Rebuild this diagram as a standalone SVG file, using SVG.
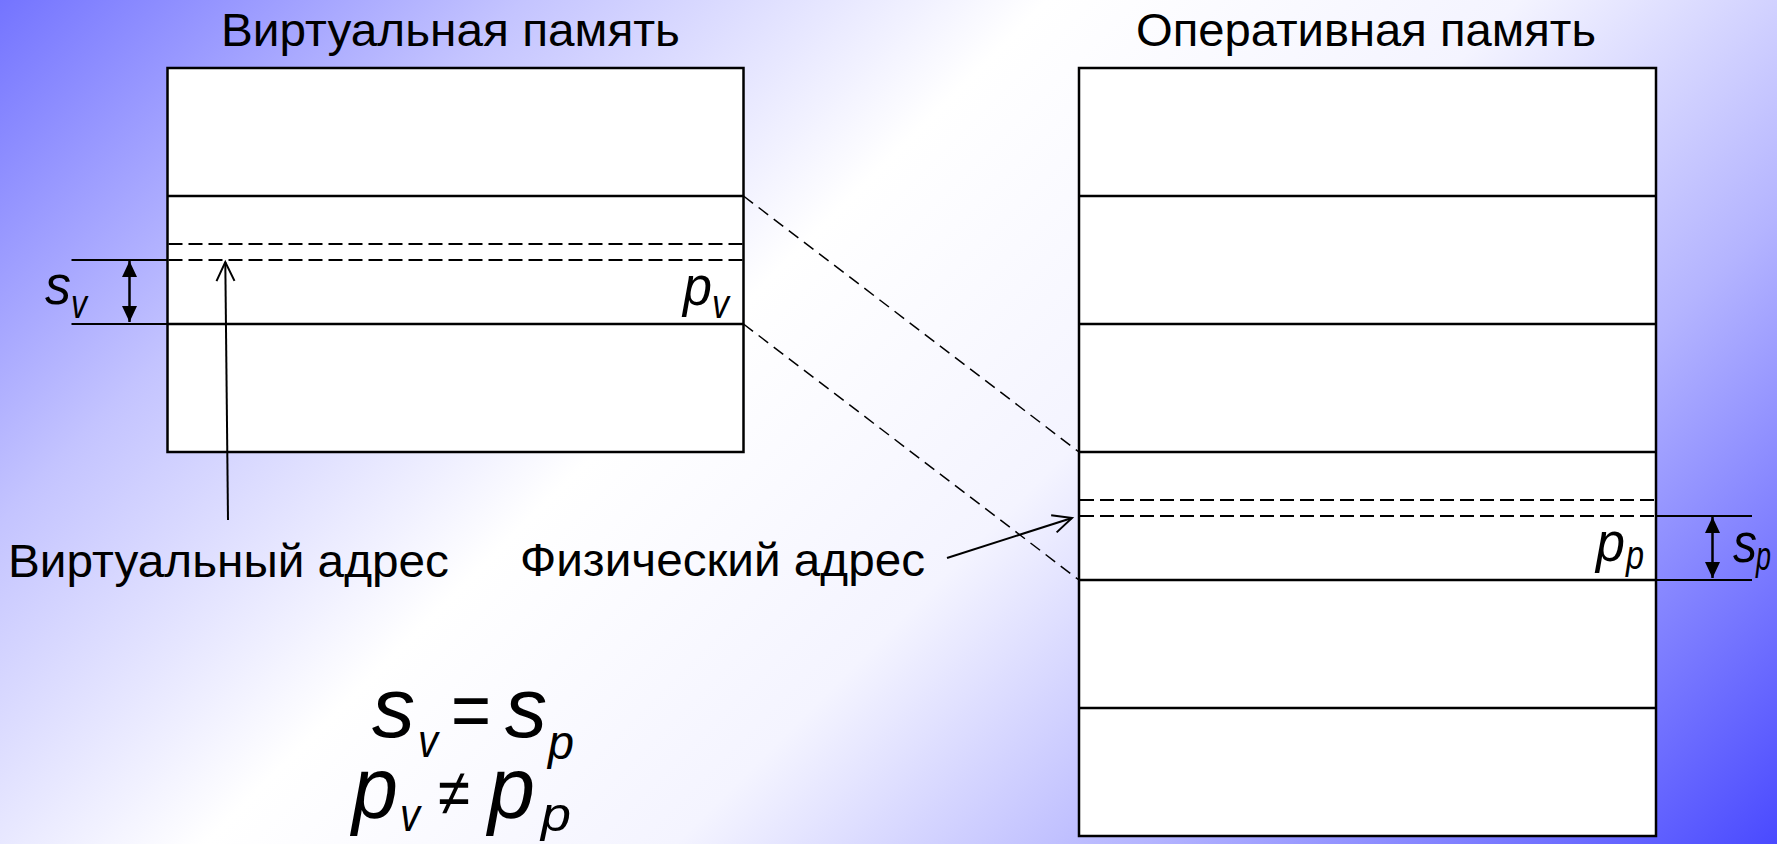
<svg xmlns="http://www.w3.org/2000/svg" width="1777" height="844" viewBox="0 0 1777 844">
<defs>
<linearGradient id="bg" gradientUnits="userSpaceOnUse" x1="0" y1="0" x2="1310" y2="1310">
<stop offset="0" stop-color="#7474ff"/>
<stop offset="0.2" stop-color="#c4c4ff"/>
<stop offset="0.4" stop-color="#ffffff"/>
<stop offset="0.58" stop-color="#f4f4ff"/>
<stop offset="0.76" stop-color="#b4b4ff"/>
<stop offset="1" stop-color="#4a4aff"/>
</linearGradient>
<marker id="open" markerUnits="userSpaceOnUse" viewBox="0 0 24 24" markerWidth="24" markerHeight="24" refX="20" refY="10" orient="auto">
<path d="M1,1 L20,10 L1,19" fill="none" stroke="#000" stroke-width="2"/>
</marker>
<marker id="solid" markerUnits="userSpaceOnUse" viewBox="0 0 16 16" markerWidth="16" markerHeight="16" refX="16" refY="7.5" orient="auto-start-reverse">
<path d="M0,0 L16,7.5 L0,15 z" fill="#000"/>
</marker>
</defs>
<style>
.t{font-family:"Liberation Sans",Arial,sans-serif;fill:#000}
.m{font-family:"Liberation Sans",Arial,sans-serif;font-style:italic;fill:#000}
.box{fill:#fff;stroke:#000;stroke-width:2.5}
.div{stroke:#000;stroke-width:2.5}
.dash{stroke:#000;stroke-width:2;stroke-dasharray:14 6}
.conn{stroke:#000;stroke-width:1.5;stroke-dasharray:12 7;fill:none}
.thin{stroke:#000;stroke-width:2}
.arr{stroke:#000;stroke-width:2;fill:none}
.dim{stroke:#000;stroke-width:2.5;fill:none}
</style>
<rect width="1777" height="844" fill="url(#bg)"/>

<g id="virtual-memory">
<text class="t" x="221" y="46" font-size="47" textLength="459" lengthAdjust="spacingAndGlyphs">Виртуальная память</text>
<rect class="box" x="167.5" y="68" width="576" height="384"/>
<line class="div" x1="167.5" y1="196" x2="743.5" y2="196"/>
<line class="div" x1="167.5" y1="324" x2="743.5" y2="324"/>
<line class="dash" x1="168.5" y1="244" x2="742.5" y2="244"/>
<line class="dash" x1="168.5" y1="260" x2="742.5" y2="260"/>
<text class="m" x="683" y="305" font-size="56" textLength="29" lengthAdjust="spacingAndGlyphs">p</text>
<text class="m" x="712" y="318" font-size="40" textLength="17" lengthAdjust="spacingAndGlyphs">v</text>
</g>

<g id="sv-dimension">
<line class="thin" x1="71.5" y1="260" x2="167.5" y2="260"/>
<line class="thin" x1="71.5" y1="324" x2="167.5" y2="324"/>
<line class="dim" x1="129.5" y1="261" x2="129.5" y2="322" marker-start="url(#solid)" marker-end="url(#solid)"/>
<text class="m" x="45" y="304" font-size="56" textLength="26" lengthAdjust="spacingAndGlyphs">s</text>
<text class="m" x="71" y="318" font-size="40" textLength="16" lengthAdjust="spacingAndGlyphs">v</text>
</g>

<g id="physical-memory">
<text class="t" x="1136" y="46" font-size="47" textLength="460" lengthAdjust="spacingAndGlyphs">Оперативная память</text>
<rect class="box" x="1079" y="68" width="577" height="768"/>
<line class="div" x1="1079" y1="196" x2="1656" y2="196"/>
<line class="div" x1="1079" y1="324" x2="1656" y2="324"/>
<line class="div" x1="1079" y1="452" x2="1656" y2="452"/>
<line class="div" x1="1079" y1="580" x2="1656" y2="580"/>
<line class="div" x1="1079" y1="708" x2="1656" y2="708"/>
<line class="dash" x1="1080" y1="500" x2="1655" y2="500"/>
<line class="dash" x1="1080" y1="516" x2="1655" y2="516"/>
<text class="m" x="1596" y="561" font-size="56" textLength="29" lengthAdjust="spacingAndGlyphs">p</text>
<text class="m" x="1626" y="569" font-size="40" textLength="18" lengthAdjust="spacingAndGlyphs">p</text>
</g>

<g id="sp-dimension">
<line class="thin" x1="1656" y1="516" x2="1752" y2="516"/>
<line class="thin" x1="1656" y1="580" x2="1752" y2="580"/>
<line class="dim" x1="1712.5" y1="517" x2="1712.5" y2="578" marker-start="url(#solid)" marker-end="url(#solid)"/>
<text class="m" x="1733" y="562" font-size="56" textLength="24" lengthAdjust="spacingAndGlyphs">s</text>
<text class="m" x="1756" y="570" font-size="40" textLength="15" lengthAdjust="spacingAndGlyphs">p</text>
</g>

<g id="virtual-address-label">
<text class="t" x="8" y="577" font-size="47" textLength="441" lengthAdjust="spacingAndGlyphs">Виртуальный адрес</text>
</g>

<g id="physical-address-label">
<text class="t" x="520" y="576" font-size="47" textLength="405" lengthAdjust="spacingAndGlyphs">Физический адрес</text>
</g>

<g id="equations">
<text class="m" x="372" y="737" font-size="86" textLength="43" lengthAdjust="spacingAndGlyphs">s</text>
<text class="m" x="418" y="757" font-size="46" textLength="20" lengthAdjust="spacingAndGlyphs">v</text>
<text class="t" x="451" y="737" font-size="80" textLength="40" lengthAdjust="spacingAndGlyphs">=</text>
<text class="m" x="505" y="737" font-size="86" textLength="42" lengthAdjust="spacingAndGlyphs">s</text>
<text class="m" x="548" y="759" font-size="48" textLength="26" lengthAdjust="spacingAndGlyphs">p</text>
<text class="m" x="352" y="818" font-size="88" textLength="46" lengthAdjust="spacingAndGlyphs">p</text>
<text class="m" x="400" y="831" font-size="46" textLength="20" lengthAdjust="spacingAndGlyphs">v</text>
<text class="t" x="438" y="815" font-size="66" textLength="32" lengthAdjust="spacingAndGlyphs">≠</text>
<text class="m" x="488" y="818" font-size="88" textLength="47" lengthAdjust="spacingAndGlyphs">p</text>
<text class="m" x="541" y="831" font-size="48" textLength="30" lengthAdjust="spacingAndGlyphs">p</text>
</g>

<g id="connectors">
<line class="conn" x1="743.5" y1="196" x2="1079" y2="452"/>
<line class="conn" x1="743.5" y1="324" x2="1079" y2="580"/>
<line class="arr" x1="228" y1="520" x2="225.3" y2="262" marker-end="url(#open)"/>
<line class="arr" x1="947" y1="558" x2="1072" y2="518" marker-end="url(#open)"/>
</g>
</svg>
